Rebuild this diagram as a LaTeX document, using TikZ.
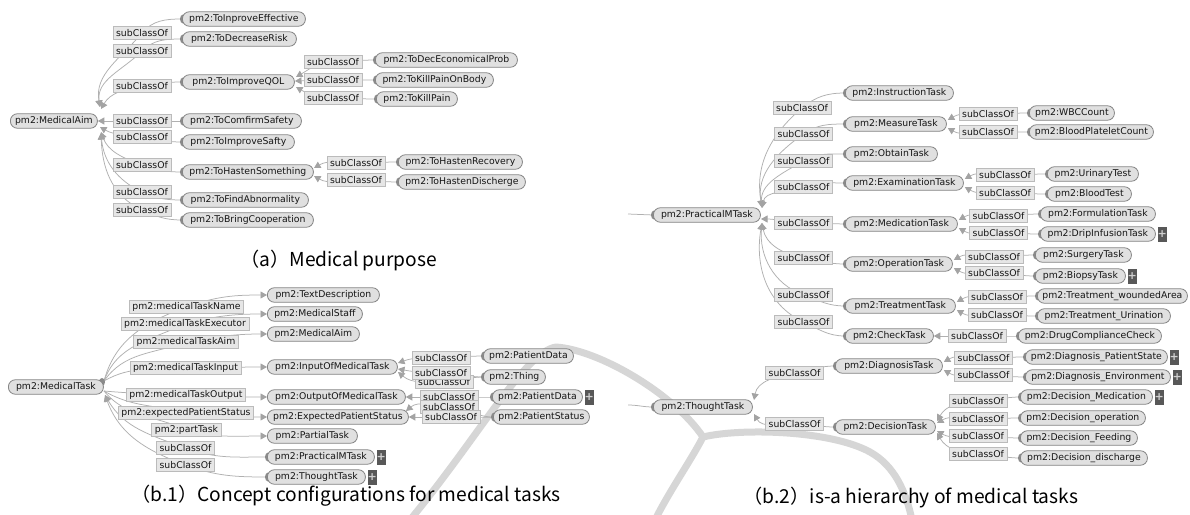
\documentclass[tikz,border=0pt]{standalone}
\usepackage{fontspec}
\newfontfamily\nf{DejaVu Sans}
\newfontfamily\cf{Noto Sans CJK JP}
\newcommand\nodefnt{\nf\fontsize{9.3pt}{10pt}\selectfont}
\newcommand\plusfnt{\nf\bfseries\fontsize{11pt}{11pt}\selectfont}
\newcommand\capfnt{\cf\fontsize{19.2pt}{22pt}\selectfont}
\usetikzlibrary{arrows.meta}
\pgfdeclarelayer{bg}
\pgfdeclarelayer{edgelayer}
\pgfsetlayers{bg,edgelayer,main}
\definecolor{nodefill}{HTML}{E0E0E0}
\definecolor{nodeborder}{HTML}{858585}
\definecolor{labfill}{HTML}{E6E6E6}
\definecolor{labborder}{HTML}{BBBBBB}
\definecolor{edgecol}{HTML}{B0B0B0}
\definecolor{arrcol}{HTML}{A3A3A3}
\definecolor{tabcol}{HTML}{8A8A8A}
\definecolor{plusfill}{HTML}{585858}
\definecolor{pluscol}{HTML}{D0D0D0}
\definecolor{wmcol}{HTML}{D6D6D6}
\definecolor{txt}{HTML}{151515}
\tikzset{
 cls/.style={draw=nodeborder, fill=nodefill, rounded corners=7pt, line width=0.8pt, minimum height=14.5pt, inner xsep=1.5pt, inner ysep=0pt, font=\nodefnt, text=txt, anchor=west},
 wd/.style={minimum width=#1pt},
 lab/.style={draw=labborder, fill=labfill, line width=0.6pt, minimum height=13.5pt, inner xsep=3.2pt, inner ysep=0pt, font=\nodefnt, text=txt},
 conn/.style={draw=edgecol, line width=0.75pt},
 sc/.style={conn, -{Triangle[length=6.5pt,width=7pt,color=arrcol]}},
 plusbox/.style={fill=plusfill, minimum width=9pt, minimum height=15pt, inner sep=0pt, text=pluscol, font=\plusfnt, anchor=west},
 captxt/.style={font=\capfnt, text=black, inner sep=0pt},
 wmark/.style={draw=wmcol, line width=7pt, line join=round},
 tabfill/.style={fill=tabcol}
}
\begin{document}
\begin{tikzpicture}[x=1pt,y=-1pt]
\useasboundingbox (0,0) rectangle (1190,514);

% ---------- watermark ----------
\begin{pgfonlayer}{bg}
\fill[white] (0,0) rectangle (1190,514);
\begin{scope}
\clip (0,0) rectangle (1190,514);
\draw[wmark] (410,520) .. controls (480,435) and (525,352) .. (556,347)
  .. controls (600,350) and (675,395) .. (703,437);
\draw[wmark] (703,437) .. controls (740,428) and (830,430) .. (870,452)
  .. controls (895,466) and (906,492) .. (912,520);
\draw[wmark] (703,437) .. controls (690,462) and (670,490) .. (655,520);
\end{scope}
\end{pgfonlayer}

% ---------- (a) Medical purpose ----------
\node[cls,wd=87] (aim) at (10,121) {pm2:MedicalAim};
\node[cls,wd=123] (a1) at (182,19) {pm2:ToInproveEffective};
\node[cls,wd=114] (a2) at (182,39) {pm2:ToDecreaseRisk};
\node[cls,wd=112] (a3) at (182,82) {pm2:ToImproveQOL};
\node[cls,wd=119] (a4) at (182,121) {pm2:ToComfirmSafety};
\node[cls,wd=112] (a5) at (182,142) {pm2:ToImproveSafty};
\node[cls,wd=131] (a6) at (182,172) {pm2:ToHastenSomething};
\node[cls,wd=126] (a7) at (182,200) {pm2:ToFindAbnormality};
\node[cls,wd=131] (a8) at (182,220) {pm2:ToBringCooperation};
\node[cls,wd=142] (a31) at (375,60) {pm2:ToDecEconomicalProb};
\node[cls,wd=118] (a32) at (375,80) {pm2:ToKillPainOnBody};
\node[cls,wd=81] (a33) at (376,99) {pm2:ToKillPain};
\node[cls,wd=124] (a61) at (398,162) {pm2:ToHastenRecovery};
\node[cls,wd=127] (a62) at (398,182) {pm2:ToHastenDischerge};

\node[lab] (l1) at (142,33) {subClassOf};
\node[lab] (l2) at (142,51) {subClassOf};
\node[lab] (l3) at (142,86) {subClassOf};
\node[lab] (l4) at (142,121) {subClassOf};
\node[lab] (l5) at (142,137) {subClassOf};
\node[lab] (l6) at (142,165) {subClassOf};
\node[lab] (l7) at (142,192) {subClassOf};
\node[lab] (l8) at (142,210) {subClassOf};
\node[lab] (m1) at (333,62) {subClassOf};
\node[lab] (m2) at (333,80) {subClassOf};
\node[lab] (m3) at (333,98) {subClassOf};
\node[lab] (n1) at (356,163) {subClassOf};
\node[lab] (n2) at (356,180) {subClassOf};

\node[captxt,anchor=west] (capa) at (240,260) {（a）Medical purpose};

% ---------- (b.1) ----------
\node[cls,wd=95] (mt) at (8,387) {pm2:MedicalTask};
\node[cls,wd=112] (b1) at (267,295) {pm2:TextDescription};
\node[cls,wd=95] (b2) at (267,314) {pm2:MedicalStaff};
\node[cls,wd=92] (b3) at (267,334) {pm2:MedicalAim};
\node[cls,wd=130] (b4) at (267,367) {pm2:InputOfMedicalTask};
\node[cls,wd=138] (b5) at (267,397) {pm2:OutputOfMedicalTask};
\node[cls,wd=141] (b6) at (267,417) {pm2:ExpectedPatientStatus};
\node[cls,wd=90] (b7) at (267,436) {pm2:PartialTask};
\node[cls,wd=107] (b8) at (267,457) {pm2:PracticalMTask};
\node[plusbox] (b8p) at ([xshift=1.5pt]b8.east) {+};
\node[cls,wd=98] (b9) at (267,477) {pm2:ThoughtTask};
\node[plusbox] (b9p) at ([xshift=1.5pt]b9.east) {+};
\node[cls,wd=90] (b41) at (483,356) {pm2:PatientData};
\node[cls,wd=62] (b42) at (483,377) {pm2:Thing};
\node[cls,wd=90] (b51) at (492,397) {pm2:PatientData};
\node[plusbox] (b51p) at ([xshift=1.5pt]b51.east) {+};
\node[cls,wd=96] (b61) at (493,417) {pm2:PatientStatus};

\node[lab] (p1) at (186.5,307) {pm2:medicalTaskName};
\node[lab] (p2) at (185,324) {pm2:medicalTaskExecutor};
\node[lab] (p3) at (186,342) {pm2:medicalTaskAim};
\node[lab] (p4) at (185.5,368) {pm2:medicalTaskInput};
\node[lab] (p5) at (186,395) {pm2:medicalTaskOutput};
\node[lab] (p6) at (186,413) {pm2:expectedPatientStatus};
\node[lab] (p7) at (186.5,430) {pm2:partTask};
\node[lab] (p8) at (185.5,448) {subClassOf};
\node[lab] (p9) at (185.5,465) {subClassOf};
\node[lab] (q3) at (444,382) {subClassOf};
\node[lab] (q2) at (441,373) {subClassOf};
\node[lab] (q1) at (441,358) {subClassOf};
\node[lab] (q4) at (449,397) {subClassOf};
\node[lab] (q5) at (449,407) {subClassOf};
\node[lab] (q6) at (451,417) {subClassOf};

\node[captxt] (capb1) at (346,496) {（b.1）Concept configurations for medical tasks};

% ---------- (b.2) ----------
\coordinate (inpm) at (628,214);
\coordinate (intt) at (628,405);
\node[cls,wd=107] (pm) at (653,215) {pm2:PracticalMTask};
\node[cls,wd=108] (c1) at (845,93) {pm2:InstructionTask};
\node[cls,wd=101] (c2) at (845,124) {pm2:MeasureTask};
\node[cls,wd=92] (c3) at (845,154) {pm2:ObtainTask};
\node[cls,wd=118] (c4) at (845,183) {pm2:ExaminationTask};
\node[cls,wd=112] (c5) at (845,224) {pm2:MedicationTask};
\node[cls,wd=107] (c6) at (845,264) {pm2:OperationTask};
\node[cls,wd=110] (c7) at (845,306) {pm2:TreatmentTask};
\node[cls,wd=88] (c8) at (845,336) {pm2:CheckTask};
\node[lab] (r1) at (802,108) {subClassOf};
\node[lab] (r2) at (803.5,134) {subClassOf};
\node[lab] (r3) at (803.5,161) {subClassOf};
\node[lab] (r4) at (803.5,187) {subClassOf};
\node[lab] (r5) at (803.5,223) {subClassOf};
\node[lab] (r6) at (803.5,258) {subClassOf};
\node[lab] (r7) at (803.5,295) {subClassOf};
\node[lab] (r8) at (803.5,322) {subClassOf};

\node[cls,wd=85] (c21) at (1029,113) {pm2:WBCCount};
\node[cls,wd=124] (c22) at (1029,132) {pm2:BloodPlateletCount};
\node[lab] (s21) at (988,114) {subClassOf};
\node[lab] (s22) at (988,132) {subClassOf};
\node[cls,wd=91] (c41) at (1047,174) {pm2:UrinaryTest};
\node[cls,wd=84] (c42) at (1047,194) {pm2:BloodTest};
\node[lab] (s41) at (1005,175) {subClassOf};
\node[lab] (s42) at (1005,193) {subClassOf};
\node[cls,wd=115] (c51) at (1040,214) {pm2:FormulationTask};
\node[cls,wd=115] (c52) at (1040,234) {pm2:DripInfusionTask};
\node[plusbox] (c52p) at ([xshift=1.5pt]c52.east) {+};
\node[lab] (s51) at (998.5,216) {subClassOf};
\node[lab] (s52) at (998.5,233) {subClassOf};
\node[cls,wd=96] (c61) at (1035,255) {pm2:SurgeryTask};
\node[cls,wd=90] (c62) at (1035,276) {pm2:BiopsyTask};
\node[plusbox] (c62p) at ([xshift=1.5pt]c62.east) {+};
\node[lab] (s61) at (994,257) {subClassOf};
\node[lab] (s62) at (994,273) {subClassOf};
\node[cls,wd=150] (c71) at (1037,296) {pm2:Treatment\_woundedArea};
\node[cls,wd=133] (c72) at (1037,316) {pm2:Treatment\_Urination};
\node[lab] (s71) at (997,297) {subClassOf};
\node[lab] (s72) at (997,315) {subClassOf};
\node[cls,wd=143] (c81) at (1018,336) {pm2:DrugComplianceCheck};
\node[lab] (s81) at (977,336) {subClassOf};

\node[cls,wd=99] (tt) at (653,407) {pm2:ThoughtTask};
\node[cls,wd=107] (d1) at (835,366) {pm2:DiagnosisTask};
\node[cls,wd=100] (d2) at (835,427) {pm2:DecisionTask};
\node[lab] (t1) at (794.5,373) {subClassOf};
\node[lab] (t2) at (794.5,424) {subClassOf};
\node[cls,wd=142] (d11) at (1025,357) {pm2:Diagnosis\_PatientState};
\node[plusbox] (d11p) at ([xshift=1.5pt]d11.east) {+};
\node[cls,wd=145] (d12) at (1025,377) {pm2:Diagnosis\_Environment};
\node[plusbox] (d12p) at ([xshift=1.5pt]d12.east) {+};
\node[lab] (u11) at (983.5,358) {subClassOf};
\node[lab] (u12) at (983.5,375) {subClassOf};
\node[cls,wd=132] (d21) at (1020,397) {pm2:Decision\_Medication};
\node[plusbox] (d21p) at ([xshift=1.5pt]d21.east) {+};
\node[cls,wd=125] (d22) at (1020,418) {pm2:Decision\_operation};
\node[cls,wd=117] (d23) at (1020,438) {pm2:Decision\_Feeding};
\node[cls,wd=127] (d24) at (1020,458) {pm2:Decision\_discharge};
\node[lab] (u21) at (978,401) {subClassOf};
\node[lab] (u22) at (978,419) {subClassOf};
\node[lab] (u23) at (978,436) {subClassOf};
\node[lab] (u24) at (978,454) {subClassOf};

\node[captxt] (capb2) at (911,498) {（b.2）is-a hierarchy of medical tasks};

% ---------- edges ----------
\begin{pgfonlayer}{edgelayer}
% (a)
\draw[sc] (a1.west) to[out=180,in=50] (l1.center) to[out=230,in=100] (100,107);
\draw[sc] (a2.west) to[out=180,in=45] (l2.center) to[out=225,in=98] (100,107);
\draw[sc] (a3.west) to[out=180,in=10] (l3.center) to[out=190,in=60] (101,109);
\draw[sc] (a4.west) -- (aim.east);
\draw[sc] (a5.west) to[out=180,in=-10] (l5.center) to[out=170,in=-30] (100,127);
\draw[sc] (a6.west) to[out=180,in=-20] (l6.center) to[out=160,in=-70] (101,132);
\draw[sc] (a7.west) to[out=180,in=-25] (l7.center) to[out=155,in=-85] (101,133);
\draw[sc] (a8.west) to[out=180,in=-25] (l8.center) to[out=155,in=-88] (101,133);
\draw[sc] (a31.west) to[out=180,in=0] (m1.center) to[out=180,in=30] (296,77);
\draw[sc] (a32.west) -- (m2.center) -- (295,81);
\draw[sc] (a33.west) to[out=180,in=0] (m3.center) to[out=180,in=-30] (296,87);
\draw[sc] (a61.west) to[out=180,in=0] (n1.center) to[out=180,in=30] (314,168);
\draw[sc] (a62.west) to[out=180,in=0] (n2.center) to[out=180,in=-30] (314,176);
% (b.1)
\coordinate (s1) at (104,381);
\coordinate (s2) at (104,391);
\draw[sc] (s1) to[out=75,in=200] (p1.center) to[out=20,in=180] (b1.west);
\draw[sc] (s1) to[out=70,in=205] (p2.center) to[out=15,in=180] (b2.west);
\draw[sc] (s1) to[out=55,in=200] (p3.center) to[out=10,in=180] (b3.west);
\draw[sc] (s1) to[out=30,in=185] (p4.center) to[out=0,in=180] (b4.west);
\draw[sc] (s2) to[out=-5,in=178] (p5.center) to[out=-2,in=180] (b5.west);
\draw[sc] (s2) to[out=-30,in=165] (p6.center) to[out=-10,in=180] (b6.west);
\draw[sc] (s2) to[out=-50,in=155] (p7.center) to[out=-15,in=180] (b7.west);
\draw[sc] (b8.west) to[out=180,in=-20] (p8.center) to[out=160,in=-60] (105,395);
\draw[sc] (b9.west) to[out=180,in=-20] (p9.center) to[out=160,in=-70] (105,395);
\draw[sc] (b41.west) to[out=180,in=0] (q1.center) to[out=180,in=20] (398,363);
\draw[sc] (b42.west) to[out=180,in=0] (q2.center) to[out=180,in=-10] (398,369);
\draw[sc] (b42.west) to[out=180,in=0] (q3.center) to[out=180,in=-40] (398,372);
\draw[sc] (b51.west) -- (q4.center) -- (b5.east);
\draw[sc] (b61.west) to[out=180,in=0] (q5.center) to[out=180,in=40] (406,411);
\draw[sc] (b61.west) -- (q6.center) -- (b6.east);
% (b.2)
\draw[conn] (inpm) -- (pm.west);
\draw[conn] (intt) to[out=0,in=180] (tt.west);
\draw[sc] (c1.west) to[out=180,in=40] (r1.center) to[out=220,in=100] (762,207);
\draw[sc] (c2.west) to[out=180,in=35] (r2.center) to[out=215,in=100] (762,207);
\draw[sc] (c3.west) to[out=180,in=30] (r3.center) to[out=210,in=95] (762,208);
\draw[sc] (c4.west) to[out=180,in=20] (r4.center) to[out=200,in=80] (762,208);
\draw[sc] (c5.west) -- (r5.center) to[out=180,in=0] (761,219);
\draw[sc] (c6.west) to[out=180,in=-10] (r6.center) to[out=170,in=-80] (762,223);
\draw[sc] (c7.west) to[out=180,in=-20] (r7.center) to[out=160,in=-95] (762,223);
\draw[sc] (c8.west) to[out=180,in=-25] (r8.center) to[out=155,in=-100] (762,223);
\draw[sc] (c21.west) to[out=180,in=0] (s21.center) to[out=180,in=30] ([shift={(1,-4)}]c2.east);
\draw[sc] (c22.west) to[out=180,in=0] (s22.center) to[out=180,in=-30] ([shift={(1,4)}]c2.east);
\draw[sc] (c41.west) to[out=180,in=0] (s41.center) to[out=180,in=30] ([shift={(1,-4)}]c4.east);
\draw[sc] (c42.west) to[out=180,in=0] (s42.center) to[out=180,in=-30] ([shift={(1,4)}]c4.east);
\draw[sc] (c51.west) to[out=180,in=0] (s51.center) to[out=180,in=30] ([shift={(1,-4)}]c5.east);
\draw[sc] (c52.west) to[out=180,in=0] (s52.center) to[out=180,in=-30] ([shift={(1,4)}]c5.east);
\draw[sc] (c61.west) to[out=180,in=0] (s61.center) to[out=180,in=30] ([shift={(1,-4)}]c6.east);
\draw[sc] (c62.west) to[out=180,in=0] (s62.center) to[out=180,in=-30] ([shift={(1,4)}]c6.east);
\draw[sc] (c71.west) to[out=180,in=0] (s71.center) to[out=180,in=30] ([shift={(1,-4)}]c7.east);
\draw[sc] (c72.west) to[out=180,in=0] (s72.center) to[out=180,in=-30] ([shift={(1,4)}]c7.east);
\draw[sc] (c81.west) -- (s81.center) -- (c8.east);
\draw[sc] (d1.west) to[out=180,in=10] (t1.center) to[out=190,in=80] (754,400);
\draw[sc] (d2.west) to[out=180,in=0] (t2.center) to[out=180,in=-60] (754,414);
\draw[sc] (d11.west) to[out=180,in=0] (u11.center) to[out=180,in=30] ([shift={(1,-4)}]d1.east);
\draw[sc] (d12.west) to[out=180,in=0] (u12.center) to[out=180,in=-30] ([shift={(1,4)}]d1.east);
\draw[sc] (d21.west) to[out=180,in=0] (u21.center) to[out=180,in=60] (937,421);
\draw[sc] (d22.west) to[out=180,in=0] (u22.center) to[out=180,in=30] (937,423);
\draw[sc] (d23.west) to[out=180,in=0] (u23.center) to[out=180,in=-30] (937,431);
\draw[sc] (d24.west) to[out=180,in=0] (u24.center) to[out=180,in=-60] (937,433);
% tabs
\foreach \n in {a1,a2,a3,a4,a5,a6,a7,a8,a31,a32,a33,a61,a62,b8,b9,b41,b42,b51,b61,
  pm,tt,c1,c2,c3,c4,c5,c6,c7,c8,c21,c22,c41,c42,c51,c52,c61,c62,c71,c72,c81,
  d1,d2,d11,d12,d21,d22,d23,d24}
  \fill[tabfill] ([xshift=1pt]\n.west) ellipse[x radius=3pt, y radius=4.5pt];
\fill[tabfill] (102,382) ellipse[x radius=3pt, y radius=4pt];
\end{pgfonlayer}
\end{tikzpicture}
\end{document}
